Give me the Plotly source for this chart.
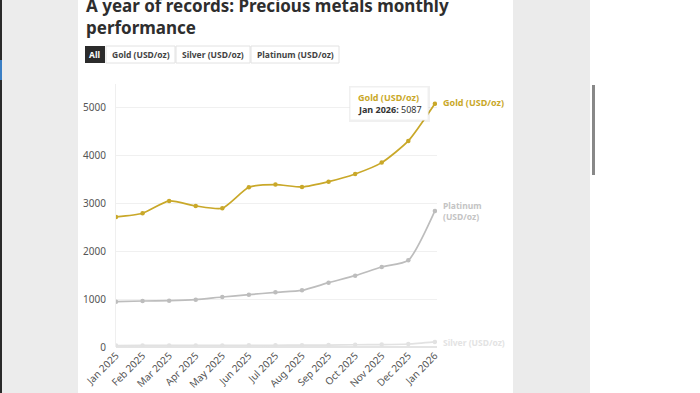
import plotly.graph_objects as go

months = ["Jan 2025", "Feb 2025", "Mar 2025", "Apr 2025", "May 2025", "Jun 2025",
          "Jul 2025", "Aug 2025", "Sep 2025", "Oct 2025", "Nov 2025", "Dec 2025", "Jan 2026"]
gold = [2720, 2797, 3054, 2950, 2902, 3341, 3396, 3347, 3458, 3619, 3856, 4310, 5087]
platinum = [948, 962, 969, 990, 1046, 1094, 1144, 1186, 1345, 1492, 1674, 1814, 2845]
silver = [30, 32, 33, 33, 33, 35, 37, 38, 41, 47, 50, 63, 107]
y_ticks = [0, 1000, 2000, 3000, 4000, 5000]

W, H = 700, 393
FONT = "Noto Sans"
GOLD = "#c9a829"
PLAT = "#bdbdbd"
SILV = "#e2e2e2"

def px(x):
    return x / W

def py(y):
    return 1 - y / H

fig = go.Figure()
for name, vals, col in [("Silver (USD/oz)", silver, SILV),
                        ("Platinum (USD/oz)", platinum, PLAT),
                        ("Gold (USD/oz)", gold, GOLD)]:
    fig.add_trace(go.Scatter(x=list(range(len(months))), y=vals, name=name, mode="lines+markers",
                             line=dict(color=col, width=1.7, shape="spline", smoothing=0.6),
                             marker=dict(color=col, size=4.5), hoverinfo="skip"))

shapes = [
    dict(type="rect", xref="paper", yref="paper", x0=0, x1=px(78), y0=0, y1=1,
         fillcolor="#ececec", line_width=0, layer="below"),
    dict(type="rect", xref="paper", yref="paper", x0=0, x1=px(2), y0=0, y1=1,
         fillcolor="#2a2a2a", line_width=0, layer="below"),
    dict(type="rect", xref="paper", yref="paper", x0=0, x1=px(2), y0=py(80), y1=py(60),
         fillcolor="#3b7fc4", line_width=0, layer="below"),
    dict(type="rect", xref="paper", yref="paper", x0=px(513), x1=px(590), y0=0, y1=1,
         fillcolor="#ebebeb", line_width=0, layer="below"),
    dict(type="rect", xref="paper", yref="paper", x0=px(592), x1=px(595), y0=py(175), y1=py(85),
         fillcolor="#888888", line_width=0, layer="below"),
    # buttons
    dict(type="rect", xref="paper", yref="paper", x0=px(85), x1=px(105), y0=py(63), y1=py(46),
         fillcolor="#2b2b2b", line_width=0),
    dict(type="rect", xref="paper", yref="paper", x0=px(106), x1=px(175), y0=py(63), y1=py(46),
         fillcolor="white", line=dict(color="#e2e2e2", width=1)),
    dict(type="rect", xref="paper", yref="paper", x0=px(176), x1=px(250), y0=py(63), y1=py(46),
         fillcolor="white", line=dict(color="#e2e2e2", width=1)),
    dict(type="rect", xref="paper", yref="paper", x0=px(251), x1=px(339), y0=py(63), y1=py(46),
         fillcolor="white", line=dict(color="#e2e2e2", width=1)),
    # tooltip shadow + box
    dict(type="rect", xref="paper", yref="paper", x0=px(349), x1=px(430), y0=py(122), y1=py(86),
         fillcolor="rgba(0,0,0,0.06)", line_width=0),
    dict(type="rect", xref="paper", yref="paper", x0=px(350), x1=px(428), y0=py(120), y1=py(87),
         fillcolor="white", line=dict(color="#f0f0f0", width=1)),
]

ann = []
def text(x, y, s, size, color, bold=False, xanchor="left", yanchor="middle"):
    ann.append(dict(x=px(x), y=py(y), xref="paper", yref="paper", text=(f"<b>{s}</b>" if bold else s),
                    showarrow=False, xanchor=xanchor, yanchor=yanchor, align="left",
                    font=dict(family=FONT, size=size, color=color)))

text(84, 16, "A year of records: Precious metals monthly<br>performance", 17, "#2e2e2e", bold=True)
text(95, 54.5, "All", 8.5, "white", bold=True, xanchor="center")
text(140.5, 54.5, "Gold (USD/oz)", 8.5, "#444", bold=True, xanchor="center")
text(213, 54.5, "Silver (USD/oz)", 8.5, "#444", bold=True, xanchor="center")
text(295, 54.5, "Platinum (USD/oz)", 8.5, "#444", bold=True, xanchor="center")
text(356, 97, "Gold (USD/oz)", 9, GOLD, bold=True)
text(356, 110, "<b>Jan 2026:</b> 5087", 9, "#333")
text(441, 103, "Gold (USD/oz)", 9, GOLD, bold=True)
text(441, 211.5, "Platinum<br>(USD/oz)", 8.5, "#c4c4c4", bold=True)
text(441, 342, "Silver (USD/oz)", 8.5, "#e3e3e3", bold=True)

fig.update_layout(
    width=W, height=H, margin=dict(l=0, r=0, t=0, b=0, autoexpand=False),
    paper_bgcolor="white", plot_bgcolor="white", showlegend=False,
    font=dict(family=FONT),
    shapes=shapes, annotations=ann,
    xaxis=dict(domain=[px(116), px(437)], range=[0, 12.08], automargin=False,
               tickmode="array", tickvals=list(range(len(months))), ticktext=months,
               tickangle=-45, tickfont=dict(size=10, color="#555"),
               showgrid=False, zeroline=False, showline=False, ticks=""),
    yaxis=dict(domain=[py(347), py(84)], range=[0, 5500], tickvals=y_ticks, automargin=False,
               tickfont=dict(size=10, color="#555"), gridcolor="#f0f0f0", gridwidth=1,
               zeroline=True, zerolinecolor="#e4e4e4", showline=True, linecolor="#efefef",
               ticks="", ticklabelstandoff=7),
)
fig.write_html("out.html", config={"displayModeBar": False},
               post_script="document.body.style.margin='0';")
